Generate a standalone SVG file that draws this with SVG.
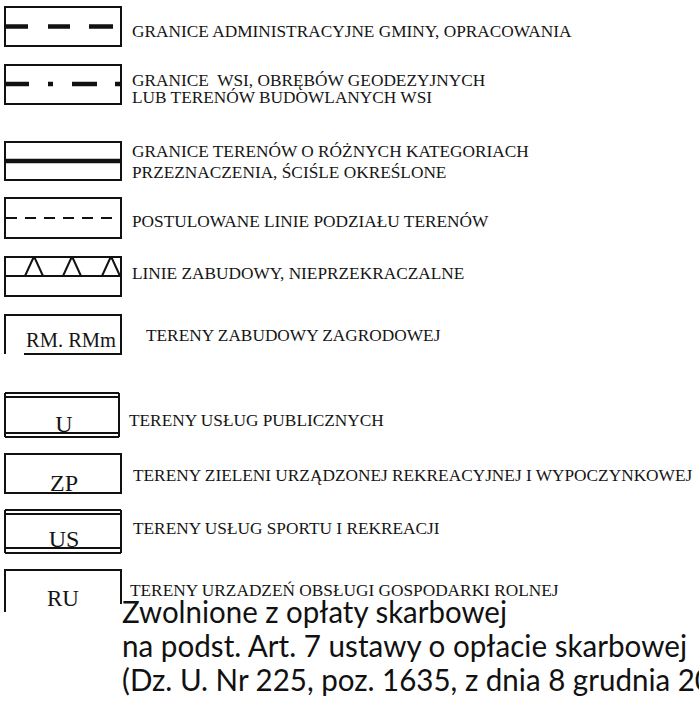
<svg xmlns="http://www.w3.org/2000/svg" width="699" height="711" viewBox="0 0 699 711">
<style>
.bx{fill:none;stroke:#111;stroke-width:2}
.ln{fill:none;stroke:#111;stroke-width:2}
.dash{fill:none;stroke:#111;stroke-width:4.5}
.t{font-family:"Liberation Serif","Times New Roman",serif;font-size:17.3px;fill:#151515}
.c{font-family:"Liberation Serif","Times New Roman",serif;fill:#151515;text-anchor:middle}
.big{font-family:Lato,"Open Sans",sans-serif;font-size:30px;fill:#111}
</style>
<rect width="699" height="711" fill="#fff"/>

<g id="row-granice-admin">
  <rect class="bx" x="5" y="7" width="116" height="39"/>
  <path class="dash" d="M5 26.5H28M48 26.5H70M89 26.5H113"/>
  <text class="t" x="132" y="37" font-size="17.2">GRANICE ADMINISTRACYJNE GMINY, OPRACOWANIA</text>
</g>

<g id="row-granice-wsi">
  <rect class="bx" x="5" y="65" width="116" height="39"/>
  <path class="dash" d="M5 84H29M48 84H53M72 84H97M115 84H121"/>
  <text class="t" x="132" y="86" font-size="18.7" xml:space="preserve">GRANICE  WSI, OBRĘBÓW GEODEZYJNYCH</text>
  <text class="t" x="132" y="103" font-size="18.8">LUB TERENÓW BUDOWLANYCH WSI</text>
</g>

<g id="row-granice-terenow">
  <rect class="bx" x="5" y="142" width="116" height="38"/>
  <path class="dash" d="M5 161H121"/>
  <text class="t" x="132" y="157" font-size="18.8">GRANICE TERENÓW O RÓŻNYCH KATEGORIACH</text>
  <text class="t" x="132" y="178" font-size="18.8">PRZEZNACZENIA, ŚCIŚLE OKREŚLONE</text>
</g>

<g id="row-postulowane">
  <rect class="bx" x="5" y="198" width="116" height="40"/>
  <path class="ln" d="M6 218H121" stroke-dasharray="11 8"/>
  <text class="t" x="132" y="227" font-size="18.6">POSTULOWANE LINIE PODZIAŁU TERENÓW</text>
</g>

<g id="row-linie-zabudowy">
  <rect class="bx" x="5" y="257" width="116" height="39"/>
  <path class="ln" d="M5 276H121"/>
  <path class="ln" d="M25 276L33 258.5H35L43 276M63 276L71 258.5H73L81 276M102 276L110 258.5H112L120 276"/>
  <text class="t" x="132" y="279" font-size="17.4">LINIE ZABUDOWY, NIEPRZEKRACZALNE</text>
</g>

<g id="row-rm">
  <path class="ln" d="M5 354V315H121V354H24"/>
  <text class="c" x="71" y="347" font-size="20.5">RM. RMm</text>
  <text class="t" x="146" y="341" font-size="17.2">TERENY ZABUDOWY ZAGRODOWEJ</text>
</g>

<g id="row-u">
  <path class="ln" d="M5 393H119M5 397H119M5 433H119M5 437H119M5 393V437M119 393V437"/>
  <text class="c" x="64" y="432" font-size="24">U</text>
  <text class="t" x="129" y="426">TERENY USŁUG PUBLICZNYCH</text>
</g>

<g id="row-zp">
  <rect class="bx" x="5" y="454" width="116" height="39"/>
  <text class="c" x="64" y="491" font-size="24">ZP</text>
  <text class="t" x="133" y="481">TERENY ZIELENI URZĄDZONEJ REKREACYJNEJ I WYPOCZYNKOWEJ</text>
</g>

<g id="row-us">
  <path class="ln" d="M5 510H121M5 514H121M5 548H121M5 553H121M5 510V553M121 510V553"/>
  <text class="c" x="64" y="547" font-size="24">US</text>
  <text class="t" x="133" y="534">TERENY USŁUG SPORTU I REKREACJI</text>
</g>

<g id="row-ru">
  <path class="ln" d="M5 612V570H121V604"/>
  <text class="c" x="63" y="606" font-size="23">RU</text>
  <text class="t" x="130" y="596" font-size="17.2">TERENY URZADZEŃ OBSŁUGI GOSPODARKI ROLNEJ</text>
</g>

<g id="note">
  <text class="big" x="122" y="623" textLength="385" lengthAdjust="spacingAndGlyphs">Zwolnione z opłaty skarbowej</text>
  <text class="big" x="122" y="657" textLength="565" lengthAdjust="spacingAndGlyphs">na podst. Art. 7 ustawy o opłacie skarbowej</text>
  <text class="big" x="122" y="691" textLength="590" lengthAdjust="spacingAndGlyphs">(Dz. U. Nr 225, poz. 1635, z dnia 8 grudnia 20</text>
</g>
</svg>
